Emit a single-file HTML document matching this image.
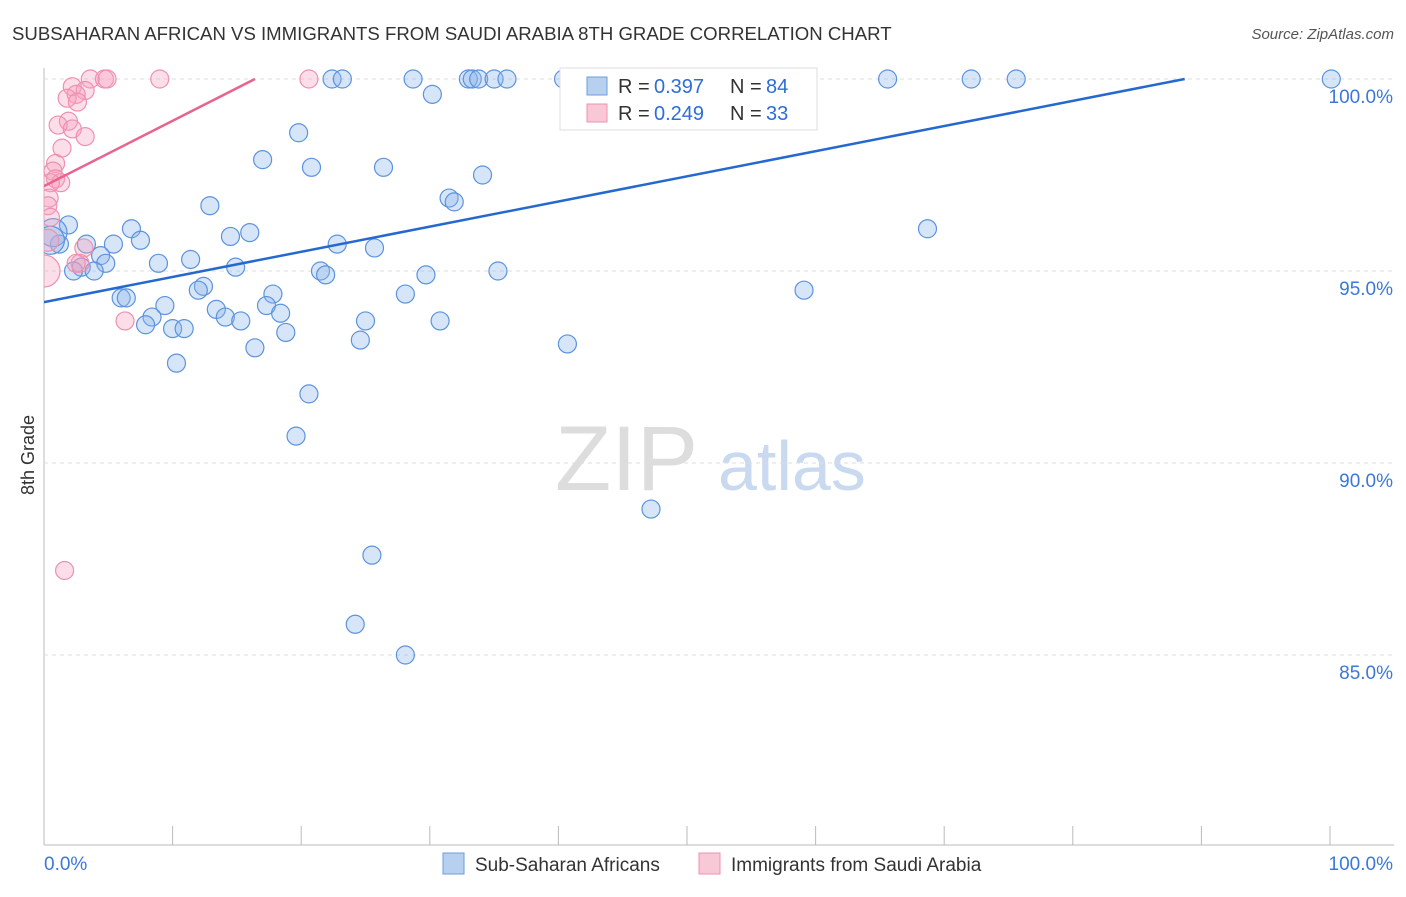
<!DOCTYPE html>
<html><head><meta charset="utf-8"><style>
body{margin:0;background:#fff;font-family:"Liberation Sans",sans-serif}
svg text{font-family:"Liberation Sans",sans-serif}
</style></head><body>
<svg id="c" width="1406" height="892" xmlns="http://www.w3.org/2000/svg">
<defs><clipPath id="pc"><rect x="44" y="40" width="1360" height="805"/></clipPath></defs>
<text x="12" y="40" font-size="18.6" fill="#333">SUBSAHARAN AFRICAN VS IMMIGRANTS FROM SAUDI ARABIA 8TH GRADE CORRELATION CHART</text>
<text x="1394" y="39" font-size="15" fill="#555" font-style="italic" text-anchor="end">Source: ZipAtlas.com</text>
<text x="34" y="455" font-size="18" fill="#333" transform="rotate(-90 34 455)" text-anchor="middle">8th Grade</text>
<g><text x="555" y="490" font-size="92" fill="#ddd" font-family="Liberation Serif">ZIP</text><text x="718" y="490" font-size="70" fill="#c9d9f0">atlas</text></g>
<g id="grid"></g><g id="marks" clip-path="url(#pc)"></g>
<g>
<rect x="560" y="68" width="257" height="62" fill="#fff" stroke="#ddd"/>
<rect x="587" y="77" width="20" height="18" fill="#b8d0f0" stroke="#6a9ee0"/>
<rect x="587" y="104" width="20" height="18" fill="#f8c8d6" stroke="#ef90ae"/>
<text x="618" y="93" font-size="20" fill="#333">R = </text><text x="654" y="93" font-size="20" fill="#2c6ed6">0.397</text>
<text x="730" y="93" font-size="20" fill="#333">N = </text><text x="766" y="93" font-size="20" fill="#2c6ed6">84</text>
<text x="618" y="120" font-size="20" fill="#333">R = </text><text x="654" y="120" font-size="20" fill="#2c6ed6">0.249</text>
<text x="730" y="120" font-size="20" fill="#333">N = </text><text x="766" y="120" font-size="20" fill="#2c6ed6">33</text>
</g>
<g>
<rect x="443" y="853" width="21" height="21" fill="#b8d0f0" stroke="#6a9ee0"/>
<text x="475" y="871" font-size="19" fill="#333">Sub-Saharan Africans</text>
<rect x="699" y="853" width="21" height="21" fill="#f8c8d6" stroke="#ef90ae"/>
<text x="731" y="871" font-size="19" fill="#333">Immigrants from Saudi Arabia</text>
</g>
</svg>
<script>
const yTicks=[100,95,90,85];
const xTickLabels=["0.0%","100.0%"];
const blueX=[22.4,23.2,28.7,33.0,33.3,33.8,35.0,36.0,40.4,42.5,52.4,65.6,72.1,75.6,100.1,30.2,19.8,17.0,20.8,26.4,34.1,31.5,31.9,12.9,68.7,6.8,1.9,16.0,14.5,7.5,5.4,3.3,22.8,25.7,1.2,4.4,4.8,8.9,11.4,14.9,2.9,3.9,21.5,21.9,35.3,29.7,2.3,59.1,12.4,12.0,17.8,28.1,6.0,6.4,9.4,17.3,18.4,13.4,14.1,8.4,15.3,25.0,30.8,7.9,10.0,10.9,18.8,24.6,40.7,16.4,10.3,20.6,19.6,47.2,25.5,24.2,28.1,0.7,0.5,55.7];
const blueY=[100,100,100,100,100,100,100,100,100,100,100,100,100,100,100,99.6,98.6,97.9,97.7,97.7,97.5,96.9,96.8,96.7,96.1,96.1,96.2,96.0,95.9,95.8,95.7,95.7,95.7,95.6,95.7,95.4,95.2,95.2,95.3,95.1,95.1,95.0,95.0,94.9,95.0,94.9,95.0,94.5,94.6,94.5,94.4,94.4,94.3,94.3,94.1,94.1,93.9,94.0,93.8,93.8,93.7,93.7,93.7,93.6,93.5,93.5,93.4,93.2,93.1,93.0,92.6,91.8,90.7,88.8,87.6,85.8,85.0,96.0,95.8,99.0];
const pinkX=[2.2,3.6,4.7,4.9,9.0,20.6,3.2,2.5,1.8,2.6,1.9,1.1,2.2,3.2,1.4,0.9,0.7,0.9,1.3,0.5,0.4,0.3,0.5,3.1,2.8,2.5,6.3,1.6,0.0,0.3];
const pinkY=[99.8,100,100,100,100,100,99.7,99.6,99.5,99.4,98.9,98.8,98.7,98.5,98.2,97.8,97.6,97.4,97.3,97.3,96.9,96.7,96.4,95.6,95.2,95.2,93.7,87.2,95.0,95.8];
const pinkR=[9,9,9,9,9,9,9,9,9,9,9,9,9,9,9,9,9,9,9,9,9,9,9,9,9,9,9,9,16,11];
const blueR=blueX.map((v,i)=>i>=77&&i<79?14:9);
const blueTrend=[[0,94.19],[88.7,100]];
const pinkTrend=[[0,97.21],[16.4,100]];
const X=v=>44+v*12.86, Y=v=>79+(100-v)*38.4;
const NS="http://www.w3.org/2000/svg";
const g=document.getElementById('grid'),m=document.getElementById('marks');
function mk(t,a,p){const e=document.createElementNS(NS,t);for(const k in a)e.setAttribute(k,a[k]);p.appendChild(e);return e;}
let ax=mk('line',{x1:44,y1:68,x2:44,y2:845,stroke:'#bbb'},g);

let bx=mk('line',{x1:44,y1:845,x2:1394,y2:845,stroke:'#bbb'},g);

yTicks.forEach(t=>{const l=mk('line',{x1:44,x2:1394,y1:Y(t),y2:Y(t),stroke:'#ddd','stroke-dasharray':'4,4'},g);

const tx=mk('text',{x:1393,y:Y(t)+24,'font-size':19,fill:'#3b78d8','text-anchor':'end'},g);tx.textContent=t.toFixed(1)+'%';
});
for(let i=0;i<=10;i++){const l=mk('line',{x1:X(i*10),x2:X(i*10),y1:826,y2:845,stroke:'#bbb'},g);
}
xTickLabels.forEach((s,i)=>{const tx=mk('text',{x:i?1393:44,y:870,'font-size':19,fill:'#3b78d8','text-anchor':i?'end':'start'},g);tx.textContent=s;
});
blueX.forEach((v,i)=>{const c=mk('circle',{cx:X(v),cy:Y(blueY[i]),r:blueR[i],fill:'rgba(140,180,235,0.35)',stroke:'#5b93dd','stroke-width':1.2},m);
});
pinkX.forEach((v,i)=>{const c=mk('circle',{cx:X(v),cy:Y(pinkY[i]),r:pinkR[i],fill:'rgba(245,160,190,0.35)',stroke:'#ef90ae','stroke-width':1.2},m);
});
const bl=mk('line',{x1:X(blueTrend[0][0]),y1:Y(blueTrend[0][1]),x2:X(blueTrend[1][0]),y2:Y(blueTrend[1][1]),stroke:'#2468d0','stroke-width':2.5},m);

const pl=mk('line',{x1:X(pinkTrend[0][0]),y1:Y(pinkTrend[0][1]),x2:X(pinkTrend[1][0]),y2:Y(pinkTrend[1][1]),stroke:'#e8648c','stroke-width':2.5},m);

</script>
</body></html>
